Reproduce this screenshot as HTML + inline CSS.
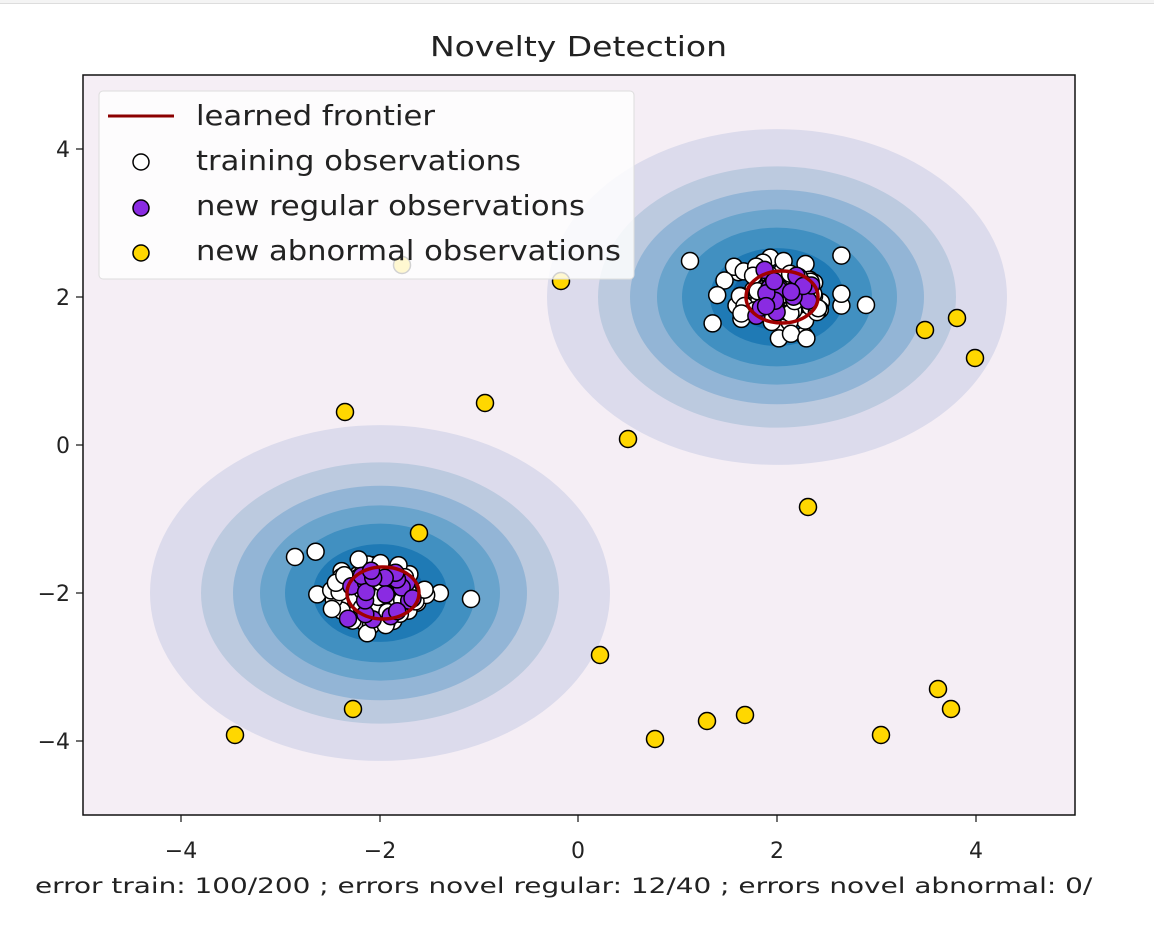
<!DOCTYPE html>
<html><head><meta charset="utf-8"><style>
html,body{margin:0;padding:0;background:#fff;}
body{width:1154px;height:926px;overflow:hidden;position:relative;font-family:"DejaVu Sans","Liberation Sans",sans-serif;}
</style></head><body>
<div style="position:absolute;left:0;top:0;width:1154px;height:3px;border-bottom:1px solid #ddd;background:#f4f4f4"></div>
<svg id="s" width="1154" height="926" style="position:absolute;left:0;top:0" font-family="DejaVu Sans, Liberation Sans, sans-serif">
<text x="430" y="56" font-size="28" fill="#222" textLength="297" lengthAdjust="spacingAndGlyphs">Novelty Detection</text>
<defs><clipPath id="c"><rect x="83" y="75" width="992" height="740"/></clipPath></defs>
<rect x="83" y="75" width="992" height="740" fill="#f5eef5"/>
<g id="plot" clip-path="url(#c)"></g>
<rect x="83" y="75" width="992" height="740" fill="none" stroke="#111" stroke-width="1.5"/>
<g font-size="22" fill="#222" text-anchor="middle">
<text x="181" y="858">−4</text><text x="380" y="858">−2</text><text x="578" y="858">0</text><text x="777" y="858">2</text><text x="976" y="858">4</text>
</g>
<g stroke="#111" stroke-width="1.2">
<line x1="181" y1="815" x2="181" y2="822"/><line x1="380" y1="815" x2="380" y2="822"/><line x1="578" y1="815" x2="578" y2="822"/><line x1="777" y1="815" x2="777" y2="822"/><line x1="976" y1="815" x2="976" y2="822"/>
<line x1="76" y1="149" x2="83" y2="149"/><line x1="76" y1="297" x2="83" y2="297"/><line x1="76" y1="445" x2="83" y2="445"/><line x1="76" y1="593" x2="83" y2="593"/><line x1="76" y1="741" x2="83" y2="741"/>
</g>
<g font-size="22" fill="#222" text-anchor="end">
<text x="70" y="157">4</text><text x="70" y="305">2</text><text x="70" y="453">0</text><text x="70" y="601">−2</text><text x="70" y="749">−4</text>
</g>
<text x="35" y="893" font-size="21" fill="#222" textLength="1075" lengthAdjust="spacingAndGlyphs">error train: 100/200 ; errors novel regular: 12/40 ; errors novel abnormal: 0/4</text>
<rect x="1093" y="860" width="61" height="50" fill="#fff"/>
<g>
<rect x="99" y="91" width="535" height="188" rx="4" fill="#fff" fill-opacity="0.82" stroke="#ddd"/>
<line x1="108" y1="116" x2="174" y2="116" stroke="#8b0000" stroke-width="3"/>
<circle cx="141" cy="162" r="8" fill="#fff" stroke="#000" stroke-width="1.5"/>
<circle cx="141" cy="208" r="8" fill="#8a2be2" stroke="#000" stroke-width="1.5"/>
<circle cx="141" cy="253" r="8" fill="#ffd700" stroke="#000" stroke-width="1.5"/>
<g font-size="28" fill="#222" lengthAdjust="spacingAndGlyphs">
<text x="196" y="125" textLength="239" lengthAdjust="spacingAndGlyphs">learned frontier</text>
<text x="196" y="170" textLength="325" lengthAdjust="spacingAndGlyphs">training observations</text>
<text x="196" y="215" textLength="389" lengthAdjust="spacingAndGlyphs">new regular observations</text>
<text x="196" y="260" textLength="425" lengthAdjust="spacingAndGlyphs">new abnormal observations</text>
</g>
</g>
</svg>
<script>
var g=document.getElementById('plot'),h='';
var cols=['#dcdbec','#bccadf','#93b5d6','#6aa4cc','#4190c1','#1f7ab5','#0f66a8'];
var rx=[230,179,147,120,95,67,45];
[[777,297],[380,593]].forEach(function(c){
 for(var i=0;i<cols.length;i++){h+='<ellipse cx="'+c[0]+'" cy="'+c[1]+'" rx="'+rx[i]+'" ry="'+(rx[i]*0.73)+'" fill="'+cols[i]+'"/>';}
});
var seed=11;function r(){seed=(seed*16807)%2147483647;return seed/2147483647;}
function n(){var v=Math.sqrt(-2*Math.log(r()+1e-9))*Math.cos(2*Math.PI*r());return Math.max(-2.3,Math.min(2.3,v));}
function pt(x,y,f){h+='<circle cx="'+x.toFixed(1)+'" cy="'+y.toFixed(1)+'" r="8.5" fill="'+f+'" stroke="#000" stroke-width="1.5"/>';}
[[777,297],[380,593]].forEach(function(c){
 for(var i=0;i<100;i++)pt(c[0]+n()*28,c[1]+n()*18,'#fff');
});
pt(690,261,'#fff');pt(866,305,'#fff');pt(295,557,'#fff');pt(471,599,'#fff');
[[777,297],[380,593]].forEach(function(c){
 for(var i=0;i<20;i++)pt(c[0]+n()*20,c[1]+n()*13,'#8a2be2');
});
h+='<ellipse cx="782" cy="297" rx="36" ry="26" fill="none" stroke="#a00000" stroke-width="3.5"/>';
h+='<ellipse cx="383" cy="593" rx="36" ry="26" fill="none" stroke="#a00000" stroke-width="3.5"/>';
[[402,265],[561,281],[345,412],[485,403],[628,439],[419,533],[808,507],[925,330],[957,318],[975,358],[600,655],[353,709],[235,735],[655,739],[707,721],[745,715],[881,735],[938,689],[951,709]].forEach(function(p){pt(p[0],p[1],'#ffd700');});
g.innerHTML=h;
</script>
</body></html>
